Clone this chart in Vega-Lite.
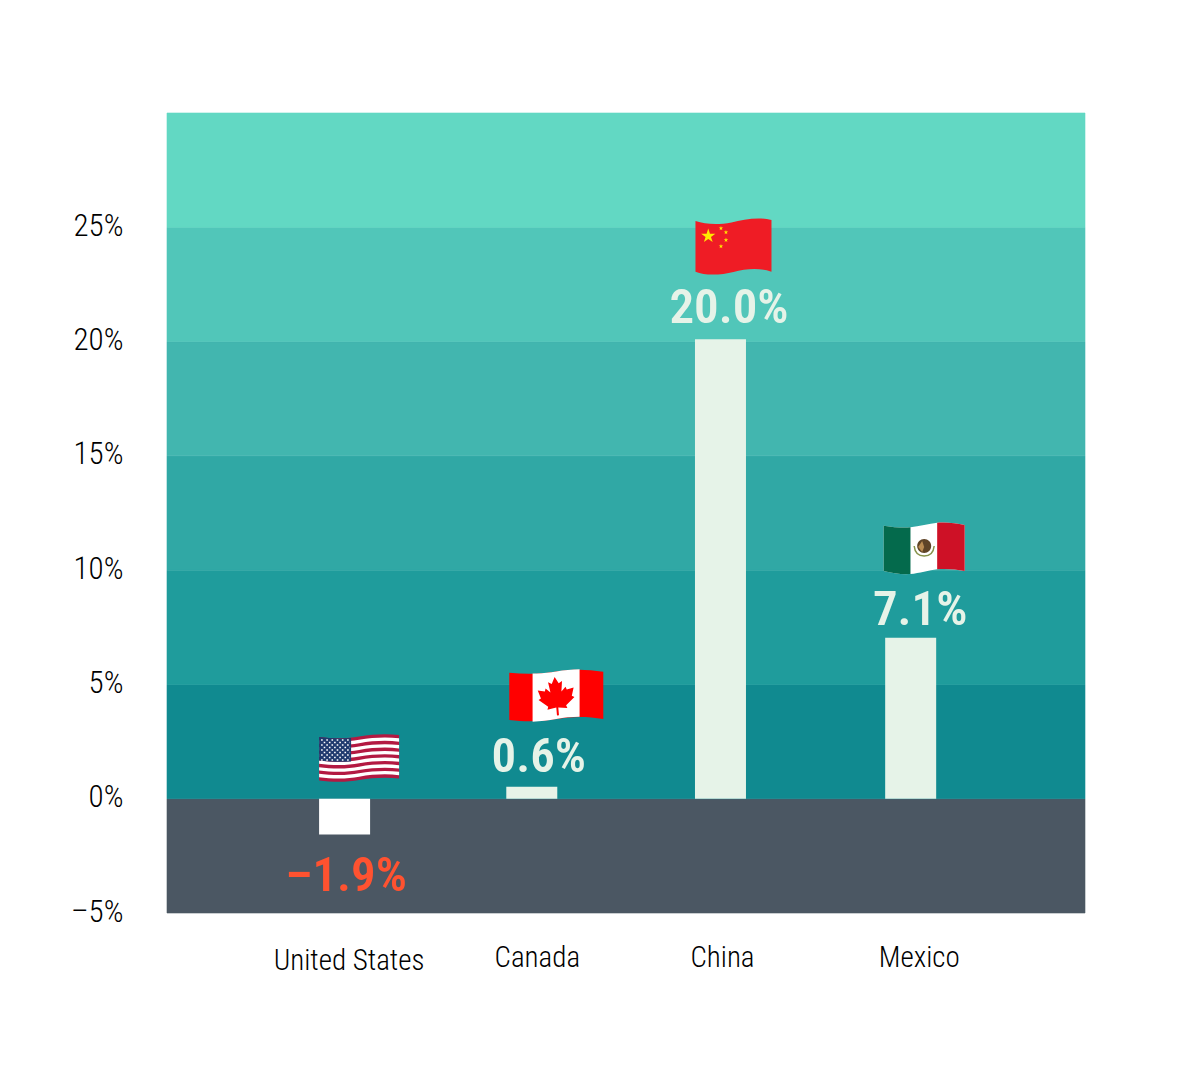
{
  "$schema": "https://vega.github.io/schema/vega-lite/v6.json",
  "description": "Growth by country, bars over banded background with flags",
  "width": 918,
  "height": 800,
  "autosize": "none",
  "padding": {"left": 167, "top": 113, "right": 115, "bottom": 164},
  "background": "#ffffff",
  "view": {"stroke": null},
  "config": {
    "font": "Roboto Condensed",
    "text": {"font": "Roboto Condensed"}
  },
  "datasets": {
    "bands": [
      {"from": -5, "to": 0},
      {"from": 0, "to": 5},
      {"from": 5, "to": 10},
      {"from": 10, "to": 15},
      {"from": 15, "to": 20},
      {"from": 20, "to": 25},
      {"from": 25, "to": 30}
    ],
    "countries": [
      {"country": "United States", "bar": -1.57, "label": "–1.9%"},
      {"country": "Canada", "bar": 0.52, "label": "0.6%"},
      {"country": "China", "bar": 20.1, "label": "20.0%"},
      {"country": "Mexico", "bar": 7.04, "label": "7.1%"}
    ]
  },
  "layer": [
    {
      "data": {"name": "bands"},
      "mark": {"type": "rect", "strokeWidth": 0.6},
      "encoding": {
        "y": {"field": "from", "type": "quantitative", "scale": {"domain": [-5, 30], "nice": false}, "axis": {
          "title": null, "values": [-5, 0, 5, 10, 15, 20, 25], "grid": false, "ticks": false, "domain": false,
          "labelPadding": 44, "labelFontSize": 31, "labelFontWeight": 300, "labelOffset": -1, "labelColor": "#000000", "labelFont": "Roboto Condensed",
          "labelExpr": "replace(datum.value + '%', '-', '–')"
        }},
        "y2": {"field": "to"},
        "color": {"field": "from", "type": "ordinal", "legend": null, "scale": {
          "domain": [-5, 0, 5, 10, 15, 20, 25],
          "range": ["#4b5763", "#108a90", "#1f9c9c", "#30a8a5", "#42b6af", "#51c6b9", "#62d8c3"]
        }},
        "stroke": {"field": "from", "type": "ordinal", "legend": null, "scale": {
          "domain": [-5, 0, 5, 10, 15, 20, 25],
          "range": ["#4b5763", "#108a90", "#1f9c9c", "#30a8a5", "#42b6af", "#51c6b9", "#62d8c3"]
        }}
      }
    },
    {
      "data": {"name": "countries"},
      "encoding": {
        "x": {"field": "country", "type": "nominal", "sort": null,
          "scale": {"type": "band", "paddingInner": 0, "paddingOuter": 0.4325, "align": 0.51},
          "axis": {
            "title": null, "ticks": false, "domain": false, "grid": false, "labelAngle": 0,
            "labelFontSize": 29, "labelFontWeight": 300, "labelColor": "#000000", "labelFont": "Roboto Condensed",
            "labelPadding": {"condition": {"test": "datum.value === 'United States'", "value": 33}, "value": 30},
            "labelOffset": {"condition": [
              {"test": "datum.value === 'United States'", "value": 4.5},
              {"test": "datum.value === 'Canada'", "value": 4},
              {"test": "datum.value === 'Mexico'", "value": 8.5}
            ], "value": 0.5}
          }},
        "y": {"field": "bar", "type": "quantitative"},
        "y2": {"datum": 0}
      },
      "layer": [
        {
          "transform": [{"filter": "datum.country === 'United States'"}],
          "layer": [
            {"mark": {"type": "bar", "size": 51, "fill": "#ffffff"}},
            {"mark": {"type": "text", "dx": 1.5, "dy": 41, "fontSize": 49, "fontWeight": 600, "fill": "#ff5230"}, "encoding": {"text": {"field": "label"}, "y2": null}},
            {"mark": {"type": "point", "size": 4, "filled": true, "opacity": 1, "strokeWidth": 0, "xOffset": 14.5, "yOffset": -76.6, "fill": "#b31942",
              "shape": "M-40,-21 C-28,-19.5 -12,-19 0,-21.5 C14,-24 28,-24.5 40,-23 V20.5 C28,19 14,19.5 0,22 C-12,24.5 -28,24 -40,22.5 Z"}, "encoding": {"y2": null}},
            {"mark": {"type": "point", "size": 4, "filled": true, "opacity": 1, "strokeWidth": 0, "xOffset": 14.5, "yOffset": -76.6, "fill": "#ffffff",
              "shape": "M-40,-17.65 c12,1.5 28,2 40,-.5 c14,-2.5 28,-3 40,-1.5 v3.35 c-12,-1.5 -26,-1 -40,1.5 c-12,2.5 -28,2 -40,.5 z M-40,-10.95 c12,1.5 28,2 40,-.5 c14,-2.5 28,-3 40,-1.5 v3.35 c-12,-1.5 -26,-1 -40,1.5 c-12,2.5 -28,2 -40,.5 z M-40,-4.25 c12,1.5 28,2 40,-.5 c14,-2.5 28,-3 40,-1.5 v3.35 c-12,-1.5 -26,-1 -40,1.5 c-12,2.5 -28,2 -40,.5 z M-40,2.45 c12,1.5 28,2 40,-.5 c14,-2.5 28,-3 40,-1.5 v3.35 c-12,-1.5 -26,-1 -40,1.5 c-12,2.5 -28,2 -40,.5 z M-40,9.15 c12,1.5 28,2 40,-.5 c14,-2.5 28,-3 40,-1.5 v3.35 c-12,-1.5 -26,-1 -40,1.5 c-12,2.5 -28,2 -40,.5 z M-40,15.85 c12,1.5 28,2 40,-.5 c14,-2.5 28,-3 40,-1.5 v3.35 c-12,-1.5 -26,-1 -40,1.5 c-12,2.5 -28,2 -40,.5 z"}, "encoding": {"y2": null}},
            {"mark": {"type": "point", "size": 4, "filled": true, "opacity": 1, "strokeWidth": 0, "xOffset": 14.5, "yOffset": -76.6, "fill": "#1f3a6e",
              "shape": "M-40,-21 C-30,-19.6 -18,-19.2 -8,-20 V3.5 C-18,4.2 -30,3.8 -40,2.5 Z"}, "encoding": {"y2": null}},
            {"mark": {"type": "point", "size": 4, "filled": false, "opacity": 1, "stroke": "#ffffff", "strokeWidth": 1.6, "strokeDash": [1.6, 3.6], "xOffset": 14.5, "yOffset": -76.6,
              "shape": "M-38,-18 H-9 M-35.4,-15.5 H-9 M-38,-13 H-9 M-35.4,-10.5 H-9 M-38,-8 H-9 M-35.4,-5.5 H-9 M-38,-3 H-9 M-35.4,-.5 H-9 M-38,2 H-9"}, "encoding": {"y2": null}}
          ]
        },
        {
          "transform": [{"filter": "datum.country === 'Canada'"}],
          "layer": [
            {"mark": {"type": "bar", "size": 51, "fill": "#e6f3e8", "xOffset": -1.5}},
            {"mark": {"type": "text", "dx": 5.5, "dy": -30, "fontSize": 49, "fontWeight": 600, "fill": "#e6f3e8"}, "encoding": {"text": {"field": "label"}, "y2": null}},
            {"mark": {"type": "point", "size": 4, "filled": true, "opacity": 1, "strokeWidth": 0, "xOffset": 23, "yOffset": -90.8, "fill": "#ff0000",
              "shape": "M-47,-23.3 C-30,-21.5 -15,-22 0,-24.5 C15,-27 30,-27 47,-24.3 V23 C30,20 15,20.5 0,23 C-15,25.5 -30,26 -47,24 Z"}, "encoding": {"y2": null}},
            {"mark": {"type": "point", "size": 4, "filled": true, "opacity": 1, "strokeWidth": 0, "xOffset": 23, "yOffset": -90.8, "fill": "#ffffff",
              "shape": "M-23.7,-22.6 C-15,-22 -8,-23.5 0,-24.5 C8,-26 15,-26.5 23.3,-26.8 V20.8 C15,20.8 8,21.7 0,23 C-8,24.3 -15,25.3 -23.7,25.6 Z"}, "encoding": {"y2": null}},
            {"mark": {"type": "point", "size": 4, "filled": true, "opacity": 1, "strokeWidth": 0, "xOffset": 23, "yOffset": -90.8, "fill": "#ff0000", "angle": -5,
              "shape": "M0,-19 L3.5,-12.5 L7,-14.5 L5.5,-4 L10,-8.5 L11,-5.5 L18,-7 L15.5,1 L18,2.5 L9,10 L10,13 L1,11.5 L1,19.5 H-1 L-1,11.5 L-10,13 L-9,10 L-18,2.5 L-15.5,1 L-18,-7 L-11,-5.5 L-10,-8.5 L-5.5,-4 L-7,-14.5 L-3.5,-12.5 Z"}, "encoding": {"y2": null}}
          ]
        },
        {
          "transform": [{"filter": "datum.country === 'China'"}],
          "layer": [
            {"mark": {"type": "bar", "size": 51, "fill": "#e6f3e8", "xOffset": -1.5}},
            {"mark": {"type": "text", "dx": 7, "dy": -31, "fontSize": 49, "fontWeight": 600, "fill": "#e6f3e8"}, "encoding": {"text": {"field": "label"}, "y2": null}},
            {"mark": {"type": "point", "size": 4, "filled": true, "opacity": 1, "strokeWidth": 0, "xOffset": 11.5, "yOffset": -92.8, "fill": "#ef1c25",
              "shape": "M-38,-25.5 C-28,-22 -15,-21.5 -2,-24 C10,-27 25,-30 38,-26.5 V25.2 C25,21 12,22.5 0,25.5 C-12,28.5 -28,29.5 -38,25.2 Z"}, "encoding": {"y2": null}},
            {"mark": {"type": "point", "size": 4, "filled": true, "opacity": 1, "strokeWidth": 0, "xOffset": 11.5, "yOffset": -92.8, "fill": "#ffe900",
              "shape": "M-25.2,-18 L-23.5,-12.8 L-18.1,-12.8 L-22.5,-9.6 L-20.8,-4.4 L-25.2,-7.6 L-29.6,-4.4 L-27.9,-9.6 L-32.3,-12.8 L-26.9,-12.8 Z M-12.5,-20.6 l.54,1.66 l1.74,0 l-1.41,1.02 l.54,1.66 l-1.41,-1.02 l-1.41,1.02 l.54,-1.66 l-1.41,-1.02 l1.74,0 z M-7.5,-16.6 l.54,1.66 l1.74,0 l-1.41,1.02 l.54,1.66 l-1.41,-1.02 l-1.41,1.02 l.54,-1.66 l-1.41,-1.02 l1.74,0 z M-7.5,-8.9 l.54,1.66 l1.74,0 l-1.41,1.02 l.54,1.66 l-1.41,-1.02 l-1.41,1.02 l.54,-1.66 l-1.41,-1.02 l1.74,0 z M-12.5,-2.6 l.54,1.66 l1.74,0 l-1.41,1.02 l.54,1.66 l-1.41,-1.02 l-1.41,1.02 l.54,-1.66 l-1.41,-1.02 l1.74,0 z"}, "encoding": {"y2": null}}
          ]
        },
        {
          "transform": [{"filter": "datum.country === 'Mexico'"}],
          "layer": [
            {"mark": {"type": "bar", "size": 51, "fill": "#e6f3e8"}},
            {"mark": {"type": "text", "dx": 9.5, "dy": -28, "fontSize": 49, "fontWeight": 600, "fill": "#e6f3e8"}, "encoding": {"text": {"field": "label"}, "y2": null}},
            {"mark": {"type": "point", "size": 4, "filled": true, "opacity": 1, "strokeWidth": 0, "xOffset": 13.5, "yOffset": -89.8, "fill": "#ffffff",
              "shape": "M-40.5,-22.3 C-30,-20.5 -20,-20 -13.7,-20.7 C-5,-21.7 5,-24.5 13,-25.3 C22,-26 32,-25 40.5,-23 V23 C32,21.5 22,20.5 13,21.3 C5,22 -5,25.5 -13.7,26 C-22,26.5 -32,25.5 -40.5,23 Z"}, "encoding": {"y2": null}},
            {"mark": {"type": "point", "size": 4, "filled": true, "opacity": 1, "strokeWidth": 0, "xOffset": 13.5, "yOffset": -89.8, "fill": "#046a4c",
              "shape": "M-40.5,-22.3 C-30,-20.5 -20,-20 -13.7,-20.7 V26 C-22,26.5 -32,25.5 -40.5,23 Z"}, "encoding": {"y2": null}},
            {"mark": {"type": "point", "size": 4, "filled": true, "opacity": 1, "strokeWidth": 0, "xOffset": 13.5, "yOffset": -89.8, "fill": "#ce1126",
              "shape": "M13,-25.3 C22,-26 32,-25 40.5,-23 V23 C32,21.5 22,20.5 13,21.3 Z"}, "encoding": {"y2": null}},
            {"mark": {"type": "point", "size": 4, "filled": false, "opacity": 1, "stroke": "#86924a", "strokeWidth": 1.5, "xOffset": 13.5, "yOffset": -89.8,
              "shape": "M-10,-2 Q-9,8 0,8 Q9,8 10,-2"}, "encoding": {"y2": null}},
            {"mark": {"type": "point", "size": 4, "filled": true, "opacity": 1, "strokeWidth": 0, "xOffset": 13.5, "yOffset": -89.8, "fill": "#5f4427",
              "shape": "M-7,-2 a7,7 0 1,0 14,0 a7,7 0 1,0 -14,0 z"}, "encoding": {"y2": null}},
            {"mark": {"type": "point", "size": 4, "filled": true, "opacity": 1, "strokeWidth": 0, "xOffset": 13.5, "yOffset": -89.8, "fill": "#b98c52",
              "shape": "M-6,-1 L-2,-7 L0,-1 L-2,4 Z"}, "encoding": {"y2": null}}
          ]
        }
      ]
    }
  ]
}
